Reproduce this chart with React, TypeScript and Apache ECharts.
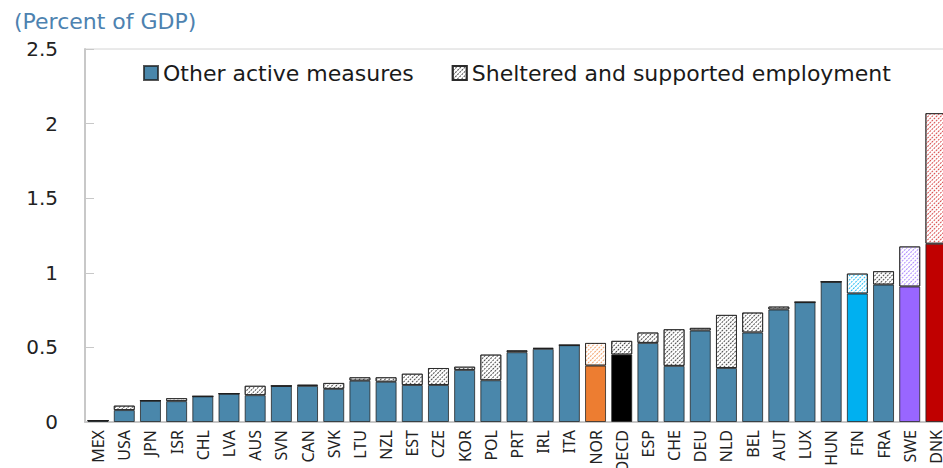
import { useEffect, useRef } from 'react'
import * as echarts from 'echarts'

const categories = [
  'MEX', 'USA', 'JPN', 'ISR', 'CHL', 'LVA', 'AUS', 'SVN', 'CAN', 'SVK', 'LTU',
  'NZL', 'EST', 'CZE', 'KOR', 'POL', 'PRT', 'IRL', 'ITA', 'NOR', 'OECD', 'ESP',
  'CHE', 'DEU', 'NLD', 'BEL', 'AUT', 'LUX', 'HUN', 'FIN', 'FRA', 'SWE', 'DNK'
]

const otherActive = [
  0.01, 0.08, 0.143, 0.14, 0.172, 0.19, 0.18, 0.242, 0.242, 0.222, 0.277,
  0.27, 0.248, 0.248, 0.349, 0.28, 0.468, 0.49, 0.515, 0.378, 0.452, 0.53,
  0.376, 0.613, 0.362, 0.6, 0.754, 0.803, 0.94, 0.861, 0.921, 0.908, 1.195
]

const sheltered = [
  0, 0.03, 0, 0.02, 0, 0, 0.063, 0, 0.008, 0.04, 0.023,
  0.03, 0.076, 0.114, 0.022, 0.172, 0.013, 0.007, 0, 0.152, 0.092, 0.07,
  0.246, 0.018, 0.356, 0.134, 0.02, 0, 0, 0.134, 0.09, 0.269, 0.875
]

const BLUE = '#4A87AB'
// highlighted countries: [solid colour, hatch colour]
const highlight: Record<string, [string, string]> = {
  NOR: ['#ED7D31', '#F3A36D'],
  OECD: ['#000000', '#444444'],
  FIN: ['#00B0F0', '#2EBFF3'],
  SWE: ['#9966FF', '#AE8BFF'],
  DNK: ['#C00000', '#D94F4F']
}

const hatch = (color: string) => ({
  symbol: 'rect',
  symbolSize: 1,
  color,
  backgroundColor: '#ffffff',
  dashArrayX: [2, 1],
  dashArrayY: [1, 1.2],
  rotation: -Math.PI / 4
})

export default function App() {
  const ref = useRef<HTMLDivElement | null>(null)

  useEffect(() => {
    if (!ref.current) return
    const chart = echarts.init(ref.current, null, { renderer: 'svg' })

    const baseData = otherActive.map((v, i) => {
      const h = highlight[categories[i]]
      return { value: v, itemStyle: { color: h ? h[0] : BLUE } }
    })
    const hatchData = sheltered.map((v, i) => {
      const h = highlight[categories[i]]
      return {
        value: v,
        itemStyle: { color: '#ffffff', decal: hatch(h ? h[1] : '#505050') }
      }
    })

    chart.setOption({
      animation: false,
      backgroundColor: '#ffffff',
      title: {
        text: '(Percent of GDP)',
        left: 9,
        top: 5,
        textStyle: {
          fontFamily: 'DejaVu Sans',
          fontSize: 22,
          fontWeight: 'normal',
          color: '#4D82B0'
        }
      },
      legend: {
        left: 138,
        top: 57,
        icon: 'rect',
        itemWidth: 14,
        itemHeight: 14,
        itemGap: 38,
        textStyle: { fontFamily: 'DejaVu Sans', fontSize: 22, color: '#1a1a1a' },
        data: ['Other active measures', 'Sheltered and supported employment']
      },
      grid: {
        left: 85,
        top: 49,
        width: 864,
        height: 373,
        outerBoundsMode: 'none',
        show: true,
        borderColor: '#d4d4d4',
        borderWidth: 1
      },
      xAxis: {
        type: 'category',
        data: categories,
        axisLine: { lineStyle: { color: '#c8c8c8', width: 2 } },
        axisTick: { inside: true, length: 4, lineStyle: { color: '#c8c8c8' } },
        axisLabel: {
          rotate: 90,
          interval: 0,
          margin: 8,
          fontFamily: 'Noto Sans',
          fontSize: 16,
          color: '#222'
        }
      },
      yAxis: {
        type: 'value',
        min: 0,
        max: 2.5,
        interval: 0.5,
        splitLine: { show: false },
        axisLine: { show: true, lineStyle: { color: '#c8c8c8', width: 2 } },
        axisTick: { show: true, inside: true, length: 9, lineStyle: { color: '#c8c8c8' } },
        axisLabel: { margin: 27, fontFamily: 'DejaVu Sans', fontSize: 20, color: '#222' }
      },
      series: [
        {
          name: 'Other active measures',
          type: 'bar',
          stack: 'total',
          barWidth: 21,
          itemStyle: { color: BLUE, borderColor: 'rgba(30,30,30,0.75)', borderWidth: 1 },
          data: baseData
        },
        {
          name: 'Sheltered and supported employment',
          type: 'bar',
          stack: 'total',
          barWidth: 21,
          itemStyle: {
            color: '#ffffff',
            borderColor: 'rgba(30,30,30,0.75)',
            borderWidth: 1,
            decal: hatch('#505050')
          },
          data: hatchData
        }
      ]
    })

    return () => chart.dispose()
  }, [])

  return (
    <div
      ref={ref}
      style={{ position: 'absolute', left: 0, top: 0, width: 943, height: 468 }}
    />
  )
}
